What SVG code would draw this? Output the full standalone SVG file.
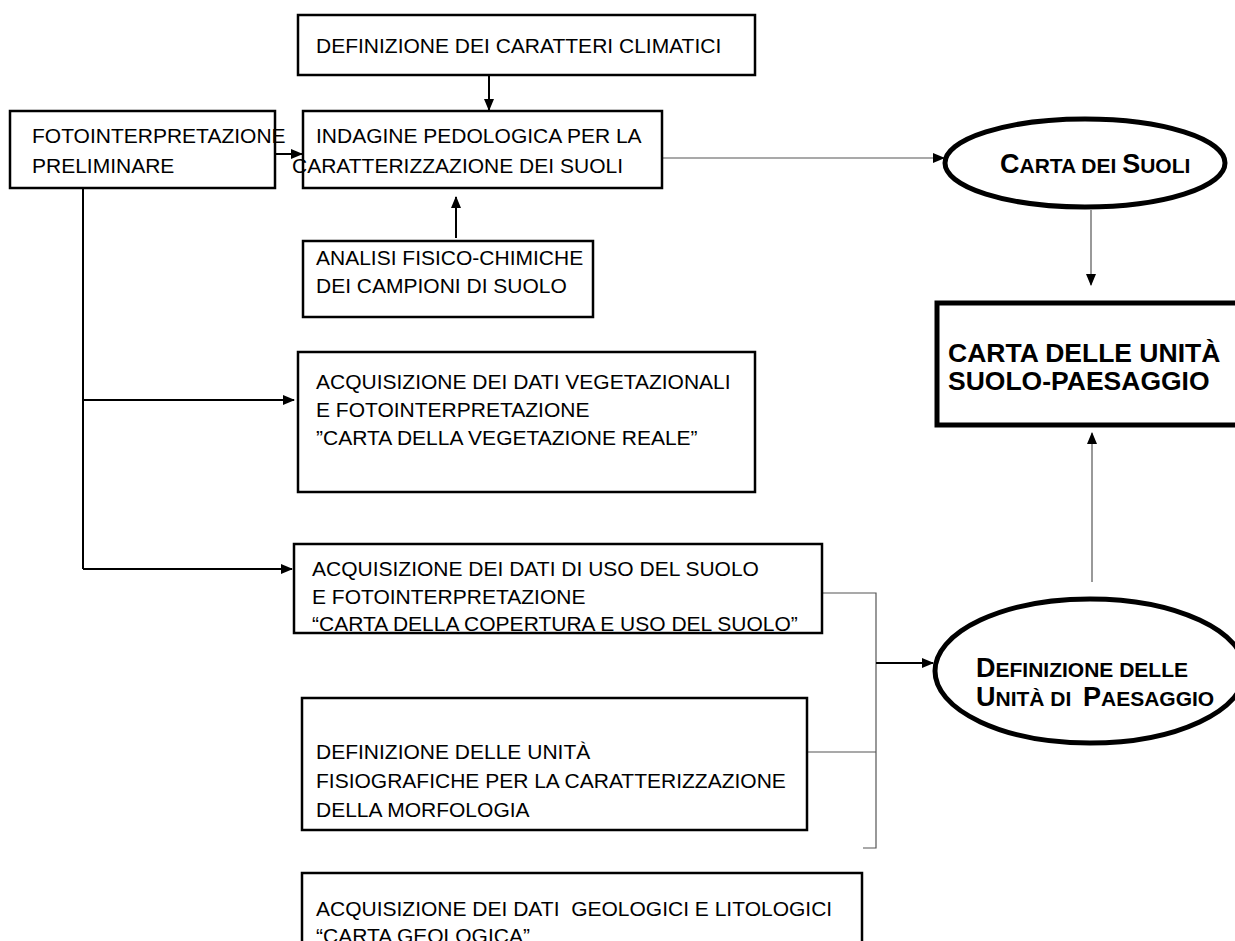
<svg xmlns="http://www.w3.org/2000/svg" width="1235" height="941" viewBox="0 0 1235 941">
<style>
.box{fill:#fff;stroke:#000;stroke-width:2.5}
.thick{fill:#fff;stroke:#000;stroke-width:5}
.ell{fill:#fff;stroke:#000;stroke-width:5}
.t{font-family:"Liberation Sans",Arial,sans-serif;font-size:21px;fill:#000}
.b{font-family:"Liberation Sans",Arial,sans-serif;font-weight:bold;fill:#000}
.thin{stroke:#555;stroke-width:1.2;fill:none}
.med{stroke:#000;stroke-width:2;fill:none}
</style>
<defs>
<marker id="ah" markerWidth="12" markerHeight="10" refX="11" refY="5" orient="auto" markerUnits="userSpaceOnUse"><path d="M0,0 L12,5 L0,10 z" fill="#000"/></marker>
</defs>
<rect width="1235" height="941" fill="#fff"/>

<g id="connectors">
<line class="med" x1="489" y1="76" x2="489" y2="110" marker-end="url(#ah)"/>
<line class="med" x1="276" y1="154" x2="302" y2="154" marker-end="url(#ah)"/>
<line class="med" x1="456" y1="238" x2="456" y2="197" marker-end="url(#ah)"/>
<line class="thin" x1="663" y1="158" x2="944" y2="158" marker-end="url(#ah)"/>
<line class="thin" x1="1091" y1="210" x2="1091" y2="285" marker-end="url(#ah)"/>
<polyline class="med" points="83,189 83,569"/>
<line class="med" x1="83" y1="400" x2="294" y2="400" marker-end="url(#ah)"/>
<line class="med" x1="83" y1="569" x2="292" y2="569" marker-end="url(#ah)"/>
<polyline class="thin" points="823,593 876,593 876,848 863,848"/>
<line class="thin" x1="808" y1="752" x2="876" y2="752"/>
<line class="med" x1="876" y1="663" x2="933" y2="663" marker-end="url(#ah)"/>
<line class="thin" x1="1092" y1="582" x2="1092" y2="433" marker-end="url(#ah)"/>
</g>

<g id="clima">
<rect class="box" x="298" y="15" width="457" height="60"/>
<text class="t" x="316" y="53">DEFINIZIONE DEI CARATTERI CLIMATICI</text>
</g>

<g id="foto">
<rect class="box" x="10" y="111" width="265" height="77"/>
<text class="t" x="32" y="143">FOTOINTERPRETAZIONE</text>
<text class="t" x="32" y="173">PRELIMINARE</text>
</g>

<g id="indagine">
<rect class="box" x="303" y="111" width="359" height="77"/>
<text class="t" x="316" y="143">INDAGINE PEDOLOGICA PER LA</text>
<text class="t" x="292" y="173">CARATTERIZZAZIONE DEI SUOLI</text>
</g>

<g id="analisi">
<rect class="box" x="303" y="241" width="290" height="76"/>
<text class="t" x="316" y="265">ANALISI FISICO-CHIMICHE</text>
<text class="t" x="316" y="293">DEI CAMPIONI DI SUOLO</text>
</g>

<g id="vegetazione">
<rect class="box" x="298" y="352" width="457" height="140"/>
<text class="t" x="316" y="389">ACQUISIZIONE DEI DATI VEGETAZIONALI</text>
<text class="t" x="316" y="417">E FOTOINTERPRETAZIONE</text>
<text class="t" x="316" y="445">”CARTA DELLA VEGETAZIONE REALE”</text>
</g>

<g id="uso">
<rect class="box" x="294" y="544" width="528" height="89"/>
<text class="t" x="312" y="576">ACQUISIZIONE DEI DATI DI USO DEL SUOLO</text>
<text class="t" x="312" y="604">E FOTOINTERPRETAZIONE</text>
<text class="t" x="312" y="631">“CARTA DELLA COPERTURA E USO DEL SUOLO”</text>
</g>

<g id="morfologia">
<rect class="box" x="302" y="698" width="505" height="132"/>
<text class="t" x="316" y="759">DEFINIZIONE DELLE UNITÀ</text>
<text class="t" x="316" y="788">FISIOGRAFICHE PER LA CARATTERIZZAZIONE</text>
<text class="t" x="316" y="817">DELLA MORFOLOGIA</text>
</g>

<g id="geologia">
<rect class="box" x="302" y="873" width="560" height="90"/>
<text class="t" x="316" y="916" xml:space="preserve">ACQUISIZIONE DEI DATI  GEOLOGICI E LITOLOGICI</text>
<text class="t" x="316" y="943">“CARTA GEOLOGICA”</text>
</g>

<g id="carta-suoli">
<ellipse class="ell" cx="1085" cy="163" rx="140" ry="44"/>
<text class="b" x="1000" y="173" font-size="21"><tspan font-size="27">C</tspan>ARTA DEI <tspan font-size="27">S</tspan>UOLI</text>
</g>

<g id="carta-unita">
<rect class="thick" x="937" y="303" width="305" height="122"/>
<text class="b" x="948" y="362" font-size="26.5">CARTA DELLE UNITÀ</text>
<text class="b" x="948" y="390" font-size="26.5">SUOLO-PAESAGGIO</text>
</g>

<g id="unita-paesaggio">
<ellipse class="ell" cx="1090" cy="671" rx="155" ry="72"/>
<text class="b" x="976" y="677" font-size="21"><tspan font-size="27">D</tspan>EFINIZIONE DELLE</text>
<text class="b" x="976" y="706" font-size="21" xml:space="preserve"><tspan font-size="27">U</tspan>NITÀ DI  <tspan font-size="27">P</tspan>AESAGGIO</text>
</g>
</svg>
